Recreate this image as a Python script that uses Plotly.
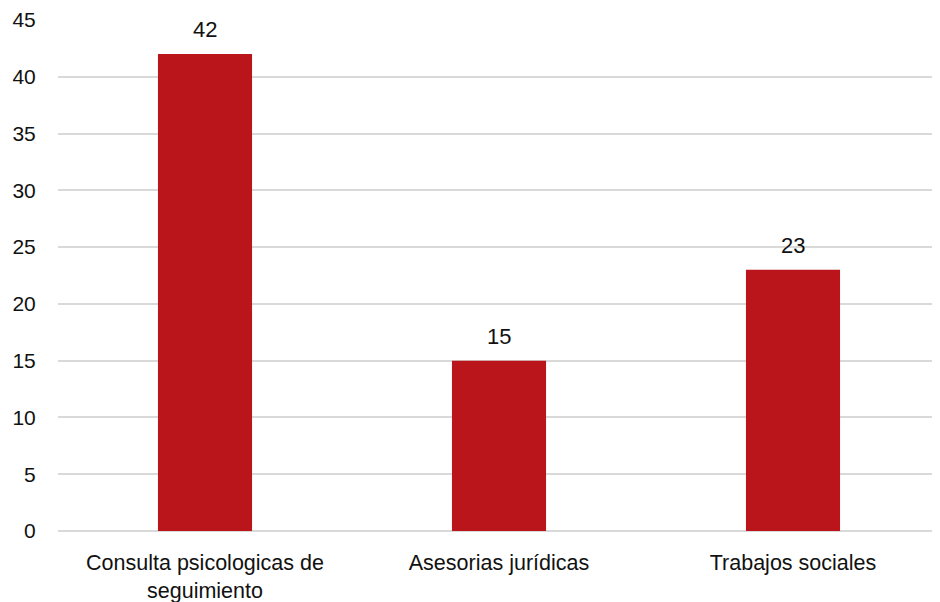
import plotly.graph_objects as go

categories = ["Consulta psicologicas de<br>seguimiento", "Asesorias jurídicas", "Trabajos sociales"]
values = [42, 15, 23]
y_ticks = [0, 5, 10, 15, 20, 25, 30, 35, 40, 45]

bar_color = "#B9151B"
font_family = "Liberation Sans, Arial, sans-serif"

fig = go.Figure()
fig.add_trace(go.Bar(
    x=categories,
    y=values,
    marker=dict(color=bar_color, line=dict(width=0)),
    width=0.32,
))

for cat, val in zip(categories, values):
    fig.add_annotation(
        x=cat, y=val, text=str(val), showarrow=False,
        yanchor="bottom", yshift=10,
        font=dict(family=font_family, size=22, color="#111111"),
    )

# page body has an 8px margin, so the figure is sized/offset to compensate
fig.update_layout(
    width=932, height=594,
    margin=dict(l=50, r=0, t=12, b=71),
    paper_bgcolor="white", plot_bgcolor="white",
    showlegend=False,
    font=dict(family=font_family, size=21, color="#111111"),
)
fig.update_yaxes(
    range=[0, 45], tickvals=y_ticks,
    showgrid=True, gridcolor="#D9D9D9", gridwidth=1.5,
    zeroline=True, zerolinecolor="#D9D9D9", zerolinewidth=1.5,
    ticks="outside", ticklen=17, tickcolor="white",
    tickfont=dict(size=21),
    showline=False, automargin=False,
)
fig.update_xaxes(
    ticks="outside", ticklen=12, tickcolor="white",
    tickfont=dict(size=21.5),
    showline=False, automargin=False,
)

fig.write_html("out.html")
